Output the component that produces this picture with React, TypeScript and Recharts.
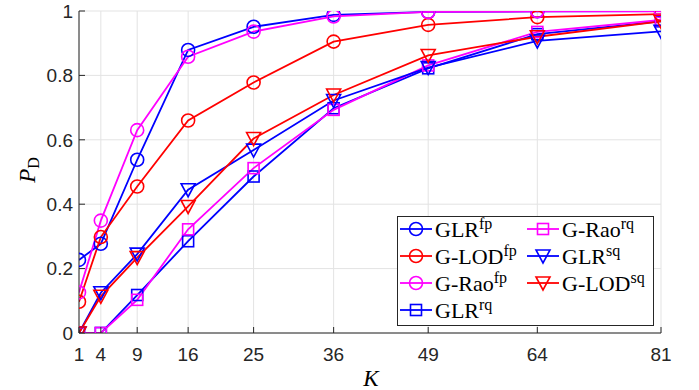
import React from 'react';
import { LineChart, Line, XAxis, YAxis, CartesianGrid } from 'recharts';

const kValues = [1, 4, 9, 16, 25, 36, 49, 64, 81];
const yTicks = [0, 0.2, 0.4, 0.6, 0.8, 1];

const glrFp = [0.227, 0.277, 0.538, 0.879, 0.951, 0.988, 0.997, 0.999, 1.0];
const lodFp = [0.097, 0.298, 0.455, 0.66, 0.778, 0.905, 0.957, 0.981, 0.99];
const raoFp = [0.126, 0.349, 0.63, 0.858, 0.936, 0.983, 0.997, 0.999, 0.999];
const glrRq = [0, 0, 0.118, 0.285, 0.486, 0.698, 0.822, 0.928, 0.968];
const raoRq = [0, 0, 0.103, 0.322, 0.512, 0.693, 0.831, 0.935, 0.972];
const glrSq = [0, 0.125, 0.245, 0.445, 0.568, 0.722, 0.824, 0.907, 0.937];
const lodSq = [0, 0.114, 0.234, 0.393, 0.604, 0.739, 0.862, 0.92, 0.968];

type MarkerKind = 'circle' | 'square' | 'tri';

const series = [
    { key: 'glrFp', base: 'GLR', sup: 'fp', color: '#0000ff', marker: 'circle' as MarkerKind, values: glrFp },
    { key: 'lodFp', base: 'G-LOD', sup: 'fp', color: '#ff0000', marker: 'circle' as MarkerKind, values: lodFp },
    { key: 'raoFp', base: 'G-Rao', sup: 'fp', color: '#ff00ff', marker: 'circle' as MarkerKind, values: raoFp },
    { key: 'glrRq', base: 'GLR', sup: 'rq', color: '#0000ff', marker: 'square' as MarkerKind, values: glrRq },
    { key: 'raoRq', base: 'G-Rao', sup: 'rq', color: '#ff00ff', marker: 'square' as MarkerKind, values: raoRq },
    { key: 'glrSq', base: 'GLR', sup: 'sq', color: '#0000ff', marker: 'tri' as MarkerKind, values: glrSq },
    { key: 'lodSq', base: 'G-LOD', sup: 'sq', color: '#ff0000', marker: 'tri' as MarkerKind, values: lodSq },
];

const data = kValues.map((k, i) => {
    const row: Record<string, number> = { k };
    series.forEach((s) => (row[s.key] = s.values[i]));
    return row;
});

const AXIS = '#262626';
const TICK_FONT = '"Liberation Sans", Arial, sans-serif';
const SERIF = '"Liberation Serif", "DejaVu Serif", serif';

function Marker({ kind, cx, cy, color }: { kind: MarkerKind; cx: number; cy: number; color: string }) {
    if (kind === 'circle') {
        return <circle cx={cx} cy={cy} r={6.5} fill="none" stroke={color} strokeWidth={1.6} />;
    }
    if (kind === 'square') {
        return <rect x={cx - 5.5} y={cy - 5.5} width={11} height={11} fill="none" stroke={color} strokeWidth={1.6} />;
    }
    return (
        <polygon
            points={`${cx - 7},${cy - 6} ${cx + 7},${cy - 6} ${cx},${cy + 7}`}
            fill="none"
            stroke={color}
            strokeWidth={1.6}
        />
    );
}

// bottom axis: label + inward tick
const BottomTick = (props: any) => {
    const { x, y, payload } = props;
    return (
        <g>
            <line x1={x} x2={x} y1={y} y2={y - 6} stroke={AXIS} />
            <text x={x} y={y + 28} textAnchor="middle" fontSize={19} fontFamily={TICK_FONT} fill={AXIS}>
                {payload.value}
            </text>
        </g>
    );
};

const LeftTick = (props: any) => {
    const { x, y, payload } = props;
    return (
        <g>
            <line x1={x} x2={x + 6} y1={y} y2={y} stroke={AXIS} />
            <text x={x - 6} y={y} dy="0.36em" textAnchor="end" fontSize={19} fontFamily={TICK_FONT} fill={AXIS}>
                {String(payload.value)}
            </text>
        </g>
    );
};

const TopTick = (props: any) => {
    const { x, y } = props;
    return <line x1={x} x2={x} y1={y} y2={y + 6} stroke={AXIS} />;
};

const RightTick = (props: any) => {
    const { x, y } = props;
    return <line x1={x} x2={x - 6} y1={y} y2={y} stroke={AXIS} />;
};

function LegendBox() {
    const rows = [229, 256, 283, 310];
    const cols = [400, 527];
    return (
        <svg width={699} height={390} style={{ position: 'absolute', left: 0, top: 0, pointerEvents: 'none' }}>
            <rect x={397.5} y={216.5} width={256} height={109} fill="#ffffff" stroke={AXIS} strokeWidth={1} />
            {series.map((s, i) => {
                const col = i < 4 ? 0 : 1;
                const row = i < 4 ? i : i - 4;
                const x0 = cols[col];
                const cy = rows[row];
                return (
                    <g key={s.key}>
                        <line x1={x0} x2={x0 + 32} y1={cy} y2={cy} stroke={s.color} strokeWidth={1.8} />
                        <Marker kind={s.marker} cx={x0 + 16} cy={cy} color={s.color} />
                        <text x={x0 + 35} y={cy + 8} fontSize={22} fontFamily={SERIF} fill="#000">
                            {s.base}
                            <tspan fontSize={16} dy={-8}>
                                {s.sup}
                            </tspan>
                        </text>
                    </g>
                );
            })}
        </svg>
    );
}

export default function App() {
    return (
        <div style={{ position: 'absolute', left: 0, top: 0, width: 699, height: 390, background: '#fff' }}>
            <LineChart width={699} height={390} data={data} margin={{ top: 11, right: 38, bottom: 0, left: 0 }}>
                <CartesianGrid stroke="#e3e3e3" strokeWidth={1} />
                <XAxis
                    dataKey="k"
                    type="number"
                    domain={[1, 81]}
                    ticks={kValues}
                    allowDataOverflow
                    height={57}
                    stroke={AXIS}
                    tickLine={false}
                    tickSize={0}
                    tickMargin={0}
                    tick={<BottomTick />}
                    interval={0}
                />
                <XAxis
                    xAxisId="top"
                    orientation="top"
                    type="number"
                    domain={[1, 81]}
                    ticks={kValues}
                    allowDataOverflow
                    height={0}
                    stroke={AXIS}
                    tickLine={false}
                    tickSize={0}
                    tickMargin={0}
                    tick={<TopTick />}
                    interval={0}
                />
                <YAxis
                    type="number"
                    domain={[0, 1]}
                    ticks={yTicks}
                    allowDataOverflow
                    width={79}
                    stroke={AXIS}
                    tickLine={false}
                    tickSize={0}
                    tickMargin={0}
                    tick={<LeftTick />}
                    interval={0}
                />
                <YAxis
                    yAxisId="right"
                    orientation="right"
                    type="number"
                    domain={[0, 1]}
                    ticks={yTicks}
                    allowDataOverflow
                    width={0}
                    stroke={AXIS}
                    tickLine={false}
                    tickSize={0}
                    tickMargin={0}
                    tick={<RightTick />}
                    interval={0}
                />
                {series.map((s) => (
                    <Line
                        key={s.key}
                        dataKey={s.key}
                        type="linear"
                        stroke={s.color}
                        strokeWidth={1.8}
                        isAnimationActive={false}
                        dot={(p: any) => (
                            <Marker key={`${s.key}-${p.index}`} kind={s.marker} cx={p.cx} cy={p.cy} color={s.color} />
                        )}
                        activeDot={false}
                    />
                ))}
            </LineChart>
            <svg width={699} height={390} style={{ position: 'absolute', left: 0, top: 0, pointerEvents: 'none' }}>
                <text transform="translate(35,170) rotate(-90)" textAnchor="middle" fontFamily={SERIF} fontSize={23} fill="#000">
                    <tspan fontStyle="italic">P</tspan>
                    <tspan fontSize={16} dy={4}>
                        D
                    </tspan>
                </text>
                <text x={371} y={386} textAnchor="middle" fontFamily={SERIF} fontSize={23} fontStyle="italic" fill="#000">
                    K
                </text>
            </svg>
            <LegendBox />
        </div>
    );
}
